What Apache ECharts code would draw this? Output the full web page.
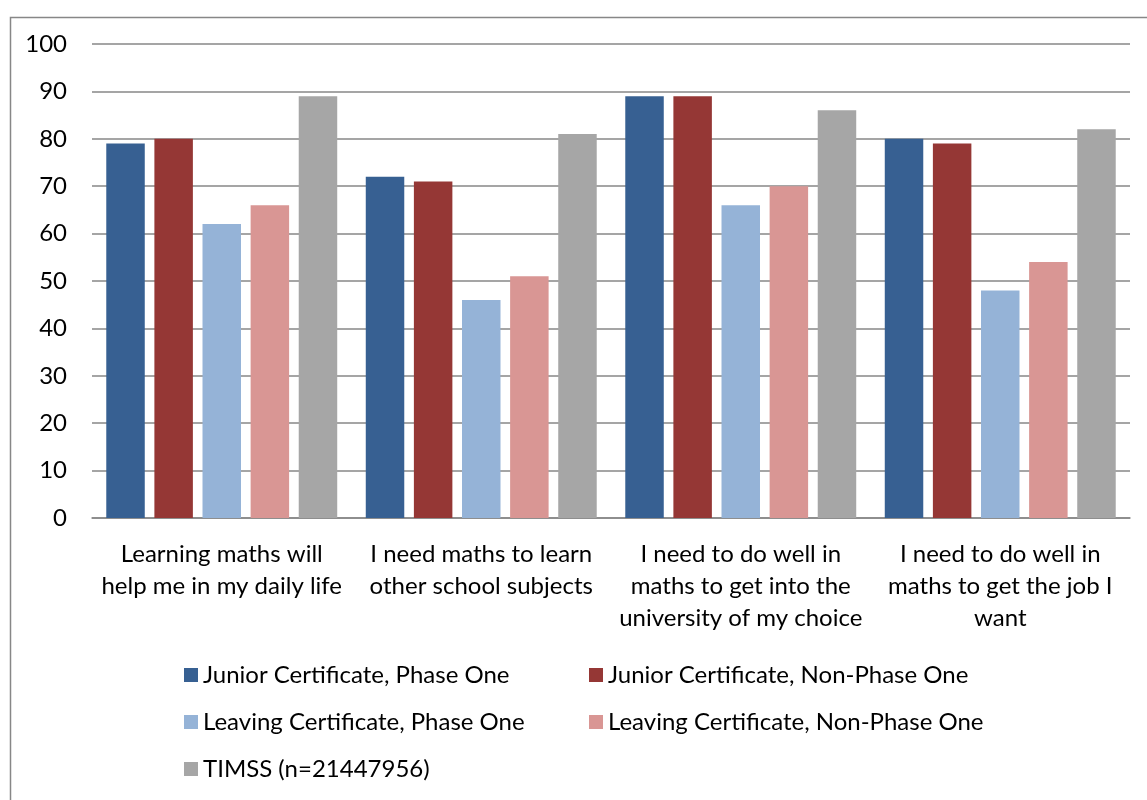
<!DOCTYPE html>
<html>
<head>
<meta charset="utf-8">
<script src="https://cdn.jsdelivr.net/npm/echarts@6/dist/echarts.min.js"></script>
<style>
html,body{margin:0;padding:0;background:#fff;}
#chart{width:1147px;height:800px;}
</style>
</head>
<body>
<div id="chart"></div>
<script>
const categories = [
  "Learning maths will\nhelp me in my daily life",
  "I need maths to learn\nother school subjects",
  "I need to do well in\nmaths to get into the\nuniversity of my choice",
  "I need to do well in\nmaths to get the job I\nwant"
];
const seriesNames = [
  "Junior Certificate, Phase One",
  "Junior Certificate, Non-Phase One",
  "Leaving Certificate, Phase One",
  "Leaving Certificate, Non-Phase One",
  "TIMSS (n=21447956)"
];
const juniorPhaseOne = [79, 72, 89, 80];
const juniorNonPhaseOne = [80, 71, 89, 79];
const leavingPhaseOne = [62, 46, 66, 48];
const leavingNonPhaseOne = [66, 51, 70, 54];
const timss = [89, 81, 86, 82];
const colors = ["#376092", "#953735", "#95B3D7", "#D99694", "#A6A6A6"];

const FONT = "Lato";
const FS = 24;
const allData = [juniorPhaseOne, juniorNonPhaseOne, leavingPhaseOne, leavingNonPhaseOne, timss];

const chart = echarts.init(document.getElementById('chart'), null, {renderer: 'canvas'});
const legendCommon = {
  orient: 'vertical',
  icon: 'rect',
  itemWidth: 14,
  itemHeight: 14,
  itemGap: 23,
  padding: 0,
  top: 663,
  textStyle: {fontFamily: FONT, fontSize: FS, color: '#000', lineHeight: 24}
};
chart.setOption({
  animation: false,
  textStyle: {fontFamily: FONT},
  graphic: [{
    type: 'rect',
    left: 8, top: 15,
    shape: {width: 1300, height: 1000},
    style: {fill: 'none', stroke: '#878787', lineWidth: 1.5},
    silent: true
  }],
  grid: {left: 92, right: 17, top: 44, bottom: 282, containLabel: false},
  legend: [
    Object.assign({left: 184, data: [seriesNames[0], seriesNames[2], seriesNames[4]]}, legendCommon),
    Object.assign({left: 589, data: [seriesNames[1], seriesNames[3]]}, legendCommon)
  ],
  xAxis: {
    type: 'category',
    data: categories,
    axisLine: {lineStyle: {color: '#878787', width: 1.5}},
    axisTick: {show: false},
    axisLabel: {fontFamily: FONT, fontSize: FS, color: '#000', lineHeight: 32, margin: 20, interval: 0}
  },
  yAxis: {
    type: 'value',
    min: 0, max: 100, interval: 10,
    axisLine: {show: false},
    axisTick: {show: false},
    splitLine: {lineStyle: {color: '#878787', width: 1.5}},
    axisLabel: {fontFamily: FONT, fontSize: FS, color: '#000', margin: 25}
  },
  series: allData.map((d, i) => ({
    name: seriesNames[i],
    type: 'bar',
    data: d,
    itemStyle: {color: colors[i]},
    barGap: '25%',
    barCategoryGap: '11%'
  }))
});
</script>
</body>
</html>
